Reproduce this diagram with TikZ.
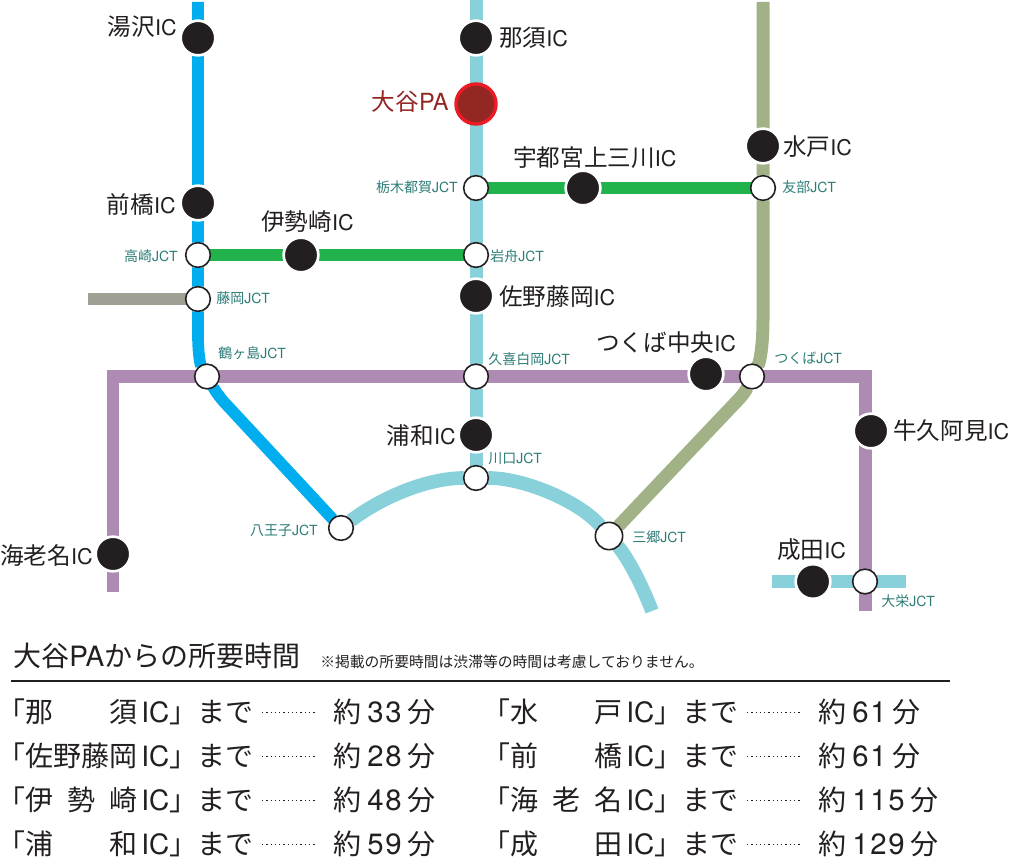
\documentclass[tikz,border=0pt]{standalone}
\usepackage{fontspec}
\setmainfont{Noto Sans CJK JP}
\newfontfamily\latfont{TeX Gyre Heros}
\newfontfamily\numfont[LetterSpace=6]{TeX Gyre Heros}
\newfontfamily\bracketfont[RawFeature=+palt]{Noto Sans CJK JP}
\usetikzlibrary{backgrounds}
\definecolor{lineblue}{RGB}{0,174,239}
\definecolor{linelight}{RGB}{136,209,219}
\definecolor{linegreen}{RGB}{34,178,76}
\definecolor{linegrey}{RGB}{160,159,147}
\definecolor{lineolive}{RGB}{161,179,134}
\definecolor{linepurple}{RGB}{174,139,179}
\definecolor{jctteal}{RGB}{44,124,118}
\definecolor{icblack}{RGB}{35,31,32}
\definecolor{padark}{RGB}{146,39,36}
\definecolor{pared}{RGB}{237,28,36}
\newcommand{\jpsize}[1]{\fontsize{#1}{#1}\selectfont}
\newcommand{\lat}[1]{{\latfont #1}}
\newcommand{\ictext}{{\latfont\jpsize{16.2pt}IC}}
\tikzset{
  icnode/.style={circle,fill=icblack,draw=white,line width=2pt,minimum size=26pt,inner sep=0pt,outer sep=0pt},
  panode/.style={circle,fill=padark,draw=pared,line width=2.6pt,minimum size=30pt,inner sep=0pt,outer sep=0pt},
  jctnode/.style={circle,fill=white,draw=icblack,line width=1.2pt,minimum size=18.5pt,inner sep=0pt,outer sep=0pt},
  jctbig/.style={jctnode,minimum size=20.5pt},
  iclabel/.style={inner sep=0pt,text=icblack,font=\jpsize{17.7pt}},
  jctlabel/.style={inner sep=0pt,text=jctteal,font=\jpsize{10.5pt}},
  rowtext/.style={inner sep=0pt,anchor=base west,text=icblack,font=\jpsize{21pt}},
  route/.style={line width=#1,line cap=butt,line join=miter}
}
\begin{document}
\begin{tikzpicture}[x=0.75pt,y=0.75pt,yscale=-1,xscale=1]
\useasboundingbox (0,0) rectangle (1011,859);

% IC
\node [icnode] (yuzawa) at (198,38) {};
\node [icnode] (nasu) at (476,38) {};
\node [icnode] (mito) at (763,146) {};
\node [icnode] (kaminokawa) at (583,188) {};
\node [icnode] (maebashi) at (198,203) {};
\node [icnode] (isesaki) at (301,255) {};
\node [icnode] (sano) at (476,296) {};
\node [icnode] (chuo) at (706,374) {};
\node [icnode] (urawa) at (476,435) {};
\node [icnode] (ushiku) at (871,431) {};
\node [icnode] (ebina) at (113,554) {};
\node [icnode] (narita) at (813,581.5) {};
\node [panode] (oya) at (476,104) {};

% JCT
\node [jctnode] (tochigi) at (476,188) {};
\node [jctnode] (tomobe) at (763,188) {};
\node [jctnode] (takasaki) at (198,255) {};
\node [jctnode] (iwafune) at (476,255) {};
\node [jctnode] (fujioka) at (198,299) {};
\node [jctnode] (tsuru) at (207,376.5) {};
\node [jctnode] (kuki) at (476,376.5) {};
\node [jctnode] (tsukuba) at (752,376.5) {};
\node [jctnode] (kawaguchi) at (476,478) {};
\node [jctnode] (hachioji) at (341,528) {};
\node [jctbig] (misato) at (609,536) {};
\node [jctnode] (taiei) at (865,581.5) {};

% free ends and bends
\coordinate (bluetop) at (198,2);
\coordinate (lighttop) at (476,0);
\coordinate (olivetop) at (763,2);
\coordinate (greyend) at (88,299);
\coordinate (bluebenda) at (198,335);
\coordinate (bluebendb) at (224,402);
\coordinate (olivebend) at (763,320);
\coordinate (olivebendb) at (738,400);
\coordinate (purplestart) at (113,592);
\coordinate (purplecorner) at (113,376.5);
\coordinate (purpleright) at (865.5,376.5);
\coordinate (purpleend) at (865.5,610.5);
\coordinate (arcend) at (652,611);
\coordinate (naritaleft) at (772,581.5);
\coordinate (naritaright) at (906,581.5);

\begin{scope}[on background layer]
  \draw [route=9.5pt,linepurple] (purplestart) -- (ebina) -- (purplecorner) -- (tsuru) -- (kuki) -- (tsukuba) -- (purpleright) -- (purpleend);
  \draw [route=8.75pt,lineblue] (bluetop) -- (yuzawa) -- (maebashi) -- (takasaki) -- (fujioka) -- (bluebenda) .. controls (198,352) and (200,364) .. (tsuru);
  \draw [route=8.75pt,lineblue] (tsuru) .. controls (212,385) and (216,393) .. (bluebendb) -- (hachioji);
  \draw [route=9.75pt,linelight] (lighttop) -- (nasu) -- (oya) -- (tochigi) -- (iwafune) -- (sano) -- (kuki) -- (urawa) -- (kawaguchi);
  \draw [route=10.25pt,linelight] (hachioji) .. controls (385,495) and (430,478) .. (kawaguchi);
  \draw [route=10.25pt,linelight] (kawaguchi) .. controls (525,478) and (580,502) .. (misato);
  \draw [route=10.25pt,linelight] (misato) .. controls (628,558) and (642,585) .. (arcend);
  \draw [route=9.5pt,linelight] (naritaleft) -- (narita) -- (taiei) -- (naritaright);
  \draw [route=9.75pt,lineolive] (olivetop) -- (mito) -- (tomobe) -- (olivebend) .. controls (763,345) and (760,362) .. (tsukuba);
  \draw [route=9.75pt,lineolive] (tsukuba) .. controls (747,388) and (744,394) .. (olivebendb) -- (misato);
  \draw [route=8.75pt,linegreen] (tochigi) -- (kaminokawa) -- (tomobe);
  \draw [route=8.75pt,linegreen] (takasaki) -- (isesaki) -- (iwafune);
  \draw [route=9.5pt,linegrey] (greyend) -- (fujioka);
\end{scope}

% Text Node
\node [iclabel,anchor=east] (yuzawalabel) at (177,27) {湯沢\ictext};
\node [iclabel,anchor=west] (nasulabel) at (499,38) {那須\ictext};
\node [iclabel,anchor=east,text=padark] (oyalabel) at (449,102) {大谷\lat{PA}};
\node [iclabel,anchor=west] (mitolabel) at (783,147) {水戸\ictext};
\node [iclabel,anchor=west] (kaminokawalabel) at (513,158) {宇都宮上三川\ictext};
\node [iclabel,anchor=east] (maebashilabel) at (176,204) {前橋\ictext};
\node [iclabel,anchor=west] (isesakilabel) at (261,222) {伊勢崎\ictext};
\node [iclabel,anchor=west] (sanolabel) at (499,297) {佐野藤岡\ictext};
\node [iclabel,anchor=west] (chuolabel) at (596,343) {つくば中央\ictext};
\node [iclabel,anchor=east] (urawalabel) at (456,436) {浦和\ictext};
\node [iclabel,anchor=west] (ushikulabel) at (893,431) {牛久阿見\ictext};
\node [iclabel,anchor=east] (ebinalabel) at (93,556) {海老名\ictext};
\node [iclabel,anchor=west] (naritalabel) at (777,550) {成田\ictext};

\node [jctlabel,anchor=east] (tochigilabel) at (458,187) {栃木都賀\lat{JCT}};
\node [jctlabel,anchor=west] (tomobelabel) at (782,187) {友部\lat{JCT}};
\node [jctlabel,anchor=east] (takasakilabel) at (178,256) {高崎\lat{JCT}};
\node [jctlabel,anchor=west] (iwafunelabel) at (490,256) {岩舟\lat{JCT}};
\node [jctlabel,anchor=west] (fujiokalabel) at (216,298) {藤岡\lat{JCT}};
\node [jctlabel,anchor=west] (tsurulabel) at (218,353) {鶴ヶ島\lat{JCT}};
\node [jctlabel,anchor=west] (kukilabel) at (488,359) {久喜白岡\lat{JCT}};
\node [jctlabel,anchor=west] (tsukubalabel) at (774,358) {つくば\lat{JCT}};
\node [jctlabel,anchor=west] (kawaguchilabel) at (488,459) {川口\lat{JCT}};
\node [jctlabel,anchor=east] (hachiojilabel) at (318,531) {八王子\lat{JCT}};
\node [jctlabel,anchor=west] (misatolabel) at (632,537) {三郷\lat{JCT}};
\node [jctlabel,anchor=west] (taieilabel) at (881,601) {大栄\lat{JCT}};

\node [rowtext] (title) at (13,666) {大谷\lat{PA}からの所要時間};
\node [inner sep=0pt,anchor=base west,text=icblack,font=\jpsize{11.1pt}] (note) at (320,667) {※掲載の所要時間は渋滞等の時間は考慮しておりません。};
\coordinate (ruleleft) at (11,681);
\coordinate (ruleright) at (950,681);
\draw [line width=1.5pt,icblack] (ruleleft) -- (ruleright);

\foreach \rowid/\colx/\rowy/\icname/\mins in {
  a/0/722/那\hfill 須/33,
  b/0/766/佐野藤岡/28,
  c/0/810/伊\hfill 勢\hfill 崎/48,
  d/0/854/浦\hfill 和/59,
  e/485/722/水\hfill 戸/61,
  f/485/766/前\hfill 橋/61,
  g/485/810/海\hfill 老\hfill 名/115,
  h/485/854/成\hfill 田/129}{
  \node [rowtext] (name\rowid) at (\colx+11,\rowy) {{\bracketfont 「}\makebox[4em][s]{\icname}\kern3pt\lat{IC}」まで};
  \coordinate (dotl\rowid) at (\colx+262,\rowy-9.7);
  \coordinate (dotr\rowid) at (\colx+315,\rowy-9.7);
  \draw [line width=1pt,icblack,dash pattern=on 1pt off 2.2pt] (dotl\rowid) -- (dotr\rowid);
  \node [rowtext] (time\rowid) at (\colx+333,\rowy) {約\kern4.5pt{\numfont\jpsize{22pt}\mins}\kern4.5pt 分};
}
\end{tikzpicture}
\end{document}
